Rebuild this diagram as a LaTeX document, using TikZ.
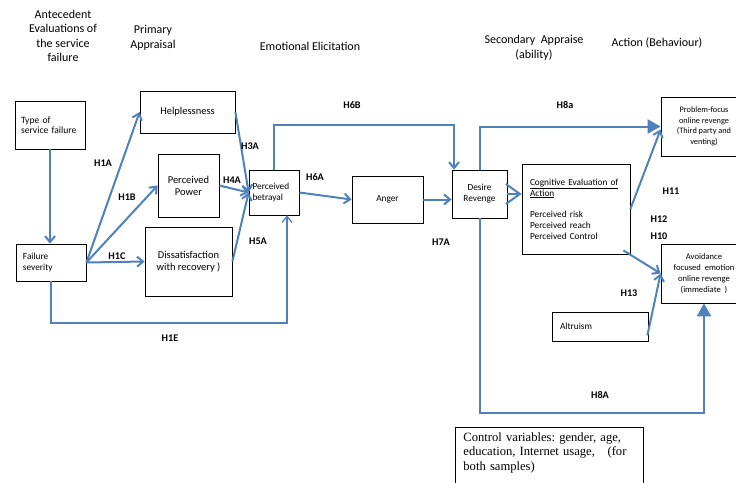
\documentclass[tikz,border=0pt]{standalone}
\usepackage{fontspec}
\setmainfont{Carlito}
\newfontfamily\ctrlfont{Liberation Serif}
\usetikzlibrary{arrows.meta,calc}
\definecolor{linkblue}{RGB}{79,129,189}
\frenchspacing

\tikzstyle{every node}=[inner sep=2pt]
\tikzstyle{box}=[draw=black, line width=0.8pt, fill=white, align=center]
\tikzstyle{lbox}=[box, align=left, inner xsep=7pt]
\tikzstyle{head}=[align=center, font=\fontsize{12}{14.5}\selectfont]
\tikzstyle{hyp}=[font=\bfseries\fontsize{10.2}{11}\selectfont]
\tikzstyle{midtxt}=[font=\fontsize{10.5}{12}\selectfont]
\tikzstyle{smalltxt}=[font=\fontsize{9.3}{11}\selectfont]
\tikzstyle{tinytxt}=[font=\fontsize{8.3}{10.6}\selectfont]
\tikzstyle{link}=[draw=linkblue, line width=2pt, -{Straight Barb[length=6pt,width=10pt]}]
\tikzstyle{bigtip}=[-{Triangle[length=13pt,width=14pt]}]

\begin{document}
\begin{tikzpicture}[x=1pt, y=-1pt]
    \useasboundingbox (0,0) rectangle (736,482);
    \clip (0,0) rectangle (736,482);

    \node [head] (hant) at (63,36) {Antecedent\\Evaluations of\\the service\\failure};
    \node [head] (hprim) at (153,38) {Primary\\Appraisal};
    \node [head] (hemo) at (310,46) {Emotional Elicitation};
    \node [head] (hsec) at (534,48) {Secondary\ \ Appraise\\(ability)};
    \node [head] (hact) at (657,43) {Action (Behaviour)};

    \node [lbox, font=\fontsize{9.6}{10.5}\selectfont, inner xsep=6pt, text width=58pt, minimum height=48pt] (type) at (50,125) {Type of\\service failure};
    \node [lbox, smalltxt, text width=56pt, minimum height=37pt] (fs) at (51,262.5) {Failure\\severity};
    \node [box, midtxt, minimum width=95pt, minimum height=42pt] (help) at (187.5,112) {Helplessness};
    \node [box, midtxt, minimum width=61pt, minimum height=63pt] (power) at (188.5,185.5) {Perceived\\Power};
    \node [box, midtxt, minimum width=87pt, minimum height=69pt] (dissat) at (188.5,261.5) {Dissatisfaction\\with recovery )};
    \node [lbox, smalltxt, inner xsep=3.5pt, text width=43pt, minimum height=45pt] (betray) at (274,192.5) {Perceived\\betrayal};
    \node [box, smalltxt, minimum width=71pt, minimum height=47pt] (anger) at (387.5,199.5) {Anger};
    \node [box, smalltxt, minimum width=55pt, minimum height=48pt] (desire) at (479.5,194) {Desire\\Revenge};
    \node [lbox, smalltxt, inner xsep=8pt, text width=92pt, minimum height=90pt] (cog) at (576,209) {\underline{Cognitive Evaluation of}\\\underline{Action}\\[10pt]Perceived risk\\Perceived reach\\Perceived Control};
    \node [box, tinytxt, minimum width=86pt, minimum height=59pt] (prob) at (704,126.5) {Problem-focus\\online revenge\\(Third party and\\venting)};
    \node [box, tinytxt, font=\fontsize{8.6}{11}\selectfont, minimum width=86pt, minimum height=59pt] (avoid) at (704,273.5) {Avoidance\\focused\ \ emotion\\online revenge\\(immediate\ \ )};
    \node [lbox, smalltxt, inner xsep=8pt, text width=80pt, minimum height=29pt] (altru) at (600,326.5) {Altruism};
    \node [lbox, inner xsep=8pt, inner ysep=5pt, text width=172pt, anchor=north west, font=\ctrlfont\fontsize{12.6}{14.7}\selectfont] (ctrl) at (455,427) {Control variables: gender, age,\\education, Internet usage,\ \ \ (for\\both samples)\\[6pt]\mbox{}};

    \coordinate (c1e) at (287,323);
    \coordinate (c6b) at (454,125);
    \coordinate (c8a) at (600,413);

    \draw [link] (type.south) -- (type.south |- fs.north);
    \draw [link] (fs.east) -- (help.west);
    \draw [link] (fs.east) -- (power.west);
    \draw [link] (fs.east) -- (dissat.west);
    \draw [link] (help.east) -- (betray.west);
    \draw [link] (power.east) -- (betray.west);
    \draw [link] (dissat.east) -- (betray.west);
    \draw [link, line width=1.3pt] (fs.south) |- (c1e) -- ($(betray.south)+(13,0)$);
    \draw [link] (betray.north) |- (c6b) -- (c6b |- desire.north);
    \draw [link] (betray.east) -- (anger.west);
    \draw [link] (anger.east) -- (anger.east -| desire.west);
    \draw [link, -{Straight Barb[length=14pt,width=20pt]}] (desire.east) -- (desire.east -| cog.west);
    \draw [link, bigtip] (desire.north) |- (prob.west);
    \draw [link, bigtip] (desire.south) |- (c8a) -| (avoid.south);
    \draw [link] (cog.east) -- ($(prob.west)+(0,3)$);
    \draw [link] ($(cog.south east)+(-7,-4)$) -- (avoid.west);
    \draw [link] ($(altru.south east)+(-1,-6)$) -- (avoid.west);

    \node [hyp] (h1a) at (103,163) {H1A};
    \node [hyp] (h1b) at (127,197) {H1B};
    \node [hyp] (h1c) at (117,256) {H1C};
    \node [hyp] (h1e) at (170,338) {H1E};
    \node [hyp] (h3a) at (250,146) {H3A};
    \node [hyp] (h4a) at (232,180) {H4A};
    \node [hyp] (h5a) at (258,241) {H5A};
    \node [hyp] (h6a) at (315,177) {H6A};
    \node [hyp] (h6b) at (352,105) {H6B};
    \node [hyp] (h7a) at (441,242) {H7A};
    \node [hyp] (h8a) at (565,105) {H8a};
    \node [hyp] (h11) at (671,191) {H11};
    \node [hyp] (h12) at (659,219) {H12};
    \node [hyp] (h10) at (659,236) {H10};
    \node [hyp] (h13) at (629,293) {H13};
    \node [hyp] (h8b) at (600,395) {H8A};
\end{tikzpicture}
\end{document}
